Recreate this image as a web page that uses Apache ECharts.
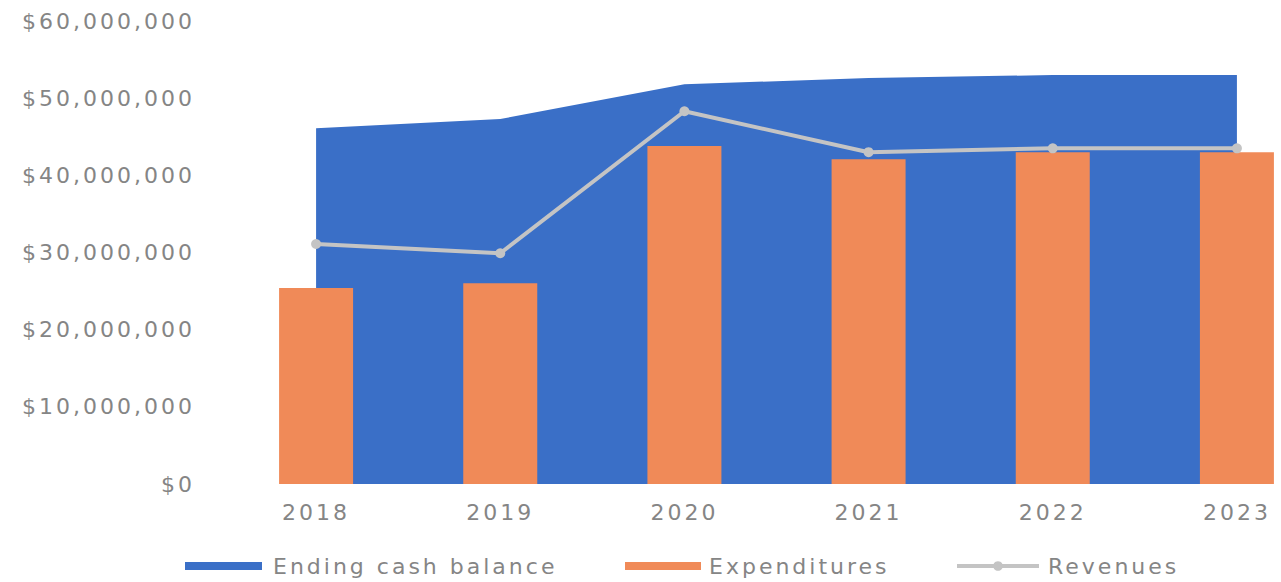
<!DOCTYPE html>
<html>
<head>
<meta charset="utf-8">
<script src="https://cdn.jsdelivr.net/npm/echarts@6/dist/echarts.min.js"></script>
<style>
  html, body { margin: 0; padding: 0; background: #ffffff; }
  #chart { width: 1281px; height: 582px; }
  /* wide, airy lettering for all chart texts */
  #chart text { letter-spacing: 3px; }
</style>
</head>
<body>
<div id="chart"></div>
<script>
// Fiscal years on the category axis
const years = ['2018', '2019', '2020', '2021', '2022', '2023'];

// Year-end values in dollars
const cashBalance  = [46100000, 47300000, 51800000, 52600000, 53000000, 53000000];
const expenditures = [25400000, 26000000, 43800000, 42100000, 43000000, 43000000];
const revenues     = [31100000, 29900000, 48300000, 43000000, 43500000, 43500000];

// Value axis range
const yMin = 0;
const yMax = 60000000;
const yStep = 10000000;

const BLUE = '#3a6fc7';
const ORANGE = '#f08a58';
const GREY = '#c4c4c4';
const LABEL = '#858585';
const FONT = 'DejaVu Sans';

const chart = echarts.init(document.getElementById('chart'), null, { renderer: 'svg' });

const legendText = (pad) => ({
  color: LABEL,
  fontFamily: FONT,
  fontSize: 22,
  lineHeight: 24,
  padding: [0, 0, 0, pad]
});

chart.setOption({
  animation: false,
  backgroundColor: '#ffffff',
  grid: {
    left: 224,
    right: -48,
    top: 21,
    bottom: 98,
    outerBoundsMode: 'none'
  },
  legend: [
    {
      data: ['Ending cash balance'],
      left: 185, top: 554, padding: 0,
      icon: 'rect', itemWidth: 77, itemHeight: 8,
      textStyle: legendText(6)
    },
    {
      data: ['Expenditures'],
      left: 625, top: 554, padding: 0,
      icon: 'rect', itemWidth: 76, itemHeight: 8,
      textStyle: legendText(3)
    },
    {
      data: ['Revenues'],
      left: 955, top: 554, padding: 0,
      itemWidth: 82, itemHeight: 12,
      lineStyle: { width: 4 },
      textStyle: legendText(4)
    }
  ],
  xAxis: {
    type: 'category',
    data: years,
    boundaryGap: true,
    axisLine: { show: false },
    axisTick: { show: false },
    axisLabel: {
      color: LABEL,
      fontFamily: FONT,
      fontSize: 22,
      margin: 17
    }
  },
  yAxis: {
    type: 'value',
    min: yMin,
    max: yMax,
    interval: yStep,
    axisLine: { show: false },
    axisTick: { show: false },
    splitLine: { show: false },
    axisLabel: {
      color: LABEL,
      fontFamily: FONT,
      fontSize: 22,
      margin: 29,
      formatter: (v) => '$' + v.toLocaleString('en-US')
    }
  },
  series: [
    {
      name: 'Ending cash balance',
      type: 'line',
      data: cashBalance,
      z: 1,
      symbol: 'none',
      color: BLUE,
      lineStyle: { width: 0, color: BLUE },
      areaStyle: { color: BLUE, opacity: 1 }
    },
    {
      name: 'Expenditures',
      type: 'bar',
      data: expenditures,
      z: 2,
      barWidth: 74,
      itemStyle: { color: ORANGE }
    },
    {
      name: 'Revenues',
      type: 'line',
      data: revenues,
      z: 3,
      symbol: 'circle',
      symbolSize: 10,
      color: GREY,
      itemStyle: { color: GREY },
      lineStyle: { width: 4, color: GREY }
    }
  ]
});
</script>
</body>
</html>
